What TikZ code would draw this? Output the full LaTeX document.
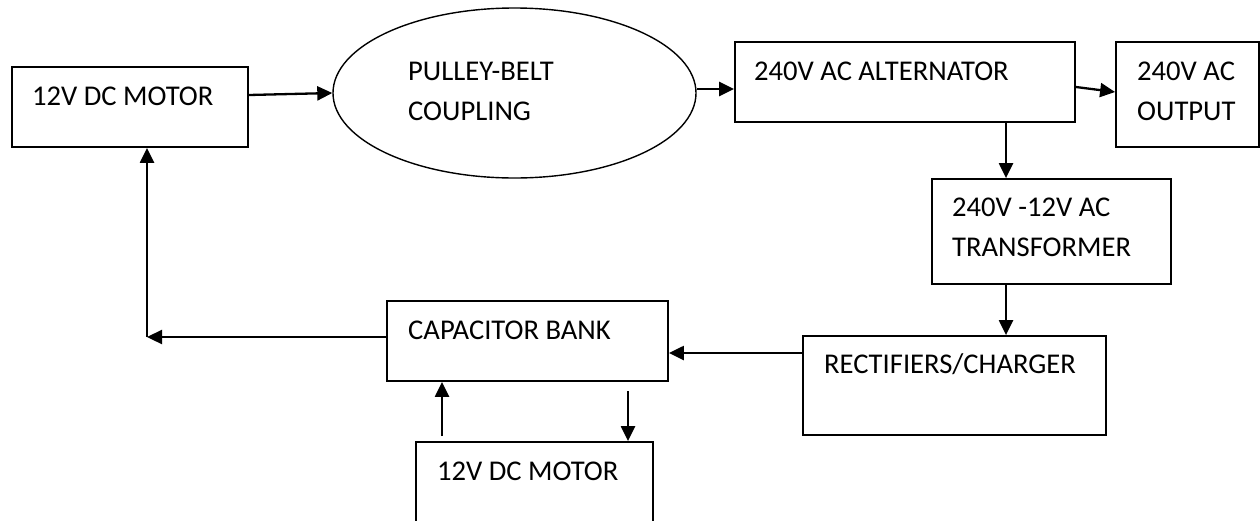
\documentclass[tikz,border=0pt]{standalone}
\usepackage{fontspec}
\setmainfont{Carlito}
\usepackage{tikz}
\usetikzlibrary{arrows.meta, shapes.geometric}

\tikzset{
  blk/.style={draw=black, line width=1.8pt, rectangle, inner sep=0pt},
  lbl/.style={font=\fontsize{28.6}{40}\selectfont, inner sep=0pt, align=left},
  arr/.style={line width=2.3pt, -{Triangle[length=15pt, width=14pt]}},
}

\begin{document}
\begin{tikzpicture}[x=1pt, y=-1pt]

%% ─── Canvas ─────────────────────────────────────────────────
\fill[white] (0,0) rectangle (1260,520);
\useasboundingbox (0,0) rectangle (1260,520);

%% ─── Top row ────────────────────────────────────────────────
\node[blk, minimum width=236pt, minimum height=80pt] (motor) at (130,107) {};
\node[lbl, anchor=base west] (motor-t) at (32,105) {12V DC MOTOR};

\node[draw=black, line width=1.4pt, ellipse, inner sep=0pt,
  minimum width=363pt, minimum height=170pt] (belt) at (514.5,93) {};
\node[lbl, anchor=north west] (belt-t) at (408,62) {PULLEY-BELT\\COUPLING};

\node[blk, minimum width=340pt, minimum height=80pt] (alt) at (905,82) {};
\node[lbl, anchor=base west] (alt-t) at (754,80) {240V AC ALTERNATOR};

\node[blk, minimum width=143pt, minimum height=105pt] (out) at (1187.5,94.5) {};
\node[lbl, anchor=north west] (out-t) at (1137,62) {240V AC\\OUTPUT};

%% ─── Right column ───────────────────────────────────────────
\node[blk, minimum width=239pt, minimum height=105pt] (trans) at (1051.5,231.5) {};
\node[lbl, anchor=north west] (trans-t) at (952,198) {240V -12V AC\\TRANSFORMER};

\node[blk, minimum width=303pt, minimum height=99pt] (rect) at (954.5,385.5) {};
\node[lbl, anchor=base west] (rect-t) at (824,373) {RECTIFIERS/CHARGER};

%% ─── Bottom row ─────────────────────────────────────────────
\node[blk, minimum width=281pt, minimum height=80pt] (cap) at (527.5,341) {};
\node[lbl, anchor=base west] (cap-t) at (408,339) {CAPACITOR BANK};

%% second motor runs off the bottom edge
\node[blk, minimum width=237pt, minimum height=90pt] (motor2) at (534.5,487) {};
\node[lbl, anchor=base west] (motor2-t) at (437,480) {12V DC MOTOR};

%% ─── Connectors ─────────────────────────────────────────────
\coordinate (beltout) at ([yshift=4pt]belt.east);
\coordinate (tap) at (1006,0);
\coordinate (feed) at (0,353);
\coordinate (corner) at (147,337);
\coordinate (up) at (442,436);
\coordinate (dn) at (628,391);

\draw[arr] ([yshift=12pt]motor.east) -- (belt.west);
\draw[arr] (beltout) -- (beltout -| alt.west);
\draw[arr] ([yshift=-5pt]alt.east) -- ([yshift=2.5pt]out.west);
\draw[arr] (tap |- alt.south) -- (tap |- trans.north);
\draw[arr] (tap |- trans.south) -- (tap |- rect.north);
\draw[arr] (feed -| rect.west) -- (feed -| cap.east);
\draw[arr] (corner -| cap.west) -- (corner);
\draw[arr] (corner) -- (corner |- motor.south);
\draw[arr] (up) -- (up |- cap.south);
\draw[arr] (dn) -- (dn |- motor2.north);

\end{tikzpicture}
\end{document}
